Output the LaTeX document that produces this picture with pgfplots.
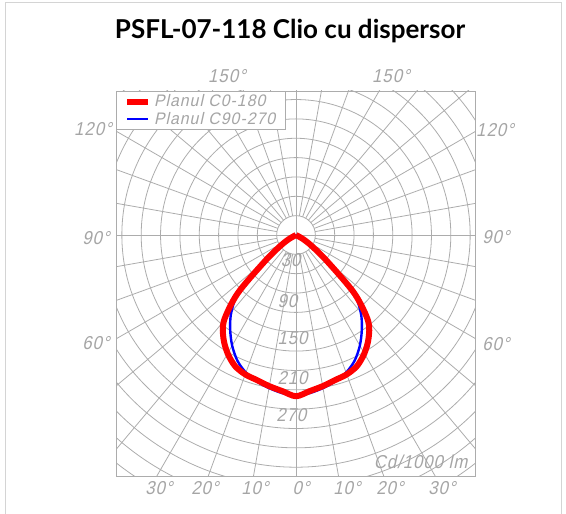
\documentclass[border=0pt]{standalone}
\usepackage{pgfplots}
\pgfplotsset{compat=1.18}
\usepackage{fontspec}
\setmainfont{Liberation Sans}
\newfontfamily\cadfont[FakeSlant=0.22,FakeStretch=0.9,LetterSpace=5]{Liberation Sans}
\newfontfamily\legfont[FakeSlant=0.22,FakeStretch=0.95,LetterSpace=6]{Liberation Sans}
\newfontfamily\titlefont{Lato}
\definecolor{gridgray}{RGB}{172,172,172}
\definecolor{labgray}{RGB}{165,165,165}
\definecolor{framegray}{RGB}{212,212,212}
\newcommand{\cadsize}{\cadfont\fontsize{14}{15}\selectfont}

\begin{document}
\begin{tikzpicture}
\path[use as bounding box] (0,0) rectangle (424.5pt,384.75pt);
\begin{axis}[
  at={(87pt,27.75pt)}, anchor=south west,
  scale only axis, width=269.25pt, height=288.75pt,
  xmin=-279.07, xmax=277.52, ymin=-373.64, ymax=223.26,
  xtick=\empty, ytick=\empty,
  axis line style={gridgray, line width=0.6pt},
  legend style={at={(0,1)}, anchor=north west, draw=gridgray, fill=white,
    line width=0.6pt, font=\legfont\fontsize{12.5}{13}\selectfont, text=labgray,
    inner xsep=6pt, inner ysep=0.5pt, row sep=-1.5pt, cells={anchor=west}},
  legend image code/.code={\draw[#1] (0pt,0pt) -- (15.75pt,0pt);},
  reverse legend,
]
\pgfplotsinvokeforeach{30,60,...,600}{\draw[gridgray, line width=0.6pt] (axis cs:0,0) circle[radius=#1];}
\pgfplotsinvokeforeach{0,10,...,350}{\draw[gridgray, line width=0.6pt] (axis cs:{30*cos(#1)},{30*sin(#1)}) -- (axis cs:{900*cos(#1)},{900*sin(#1)});}
\draw[gridgray, line width=0.6pt] (axis cs:-600,0) -- (axis cs:600,0);
\draw[gridgray, line width=0.6pt] (axis cs:0,-600) -- (axis cs:0,600);

\node[anchor=west, font=\cadsize, text=labgray, inner sep=0pt] at (axis cs:-24,-39) {30};
\node[anchor=west, font=\cadsize, text=labgray, inner sep=0pt] at (axis cs:-29,-103) {90};
\node[anchor=west, font=\cadsize, text=labgray, inner sep=0pt] at (axis cs:-29,-160) {150};
\node[anchor=west, font=\cadsize, text=labgray, inner sep=0pt] at (axis cs:-29,-222) {210};
\node[anchor=west, font=\cadsize, text=labgray, inner sep=0pt] at (axis cs:-31,-279) {270};
\node[anchor=east, font=\cadsize, text=labgray, inner sep=0pt] at (axis cs:266,-352) {Cd/1000 lm};

\addplot[blue, line width=1.8pt, smooth, tension=0.5, data cs=polar, line join=round] coordinates {
(-160,0) (-150,13) (-145,30) (-140,62) (-135,125) (-130,156) (-125,178) (-120,198) (-115,215)
(-110,227) (-105,235) (-100,241) (-95,246) (-90,250)
(-85,246) (-80,241) (-75,235) (-70,227) (-65,215) (-60,198) (-55,178) (-50,156)
(-45,125) (-40,62) (-35,30) (-30,13) (-20,0)
};
\addlegendentry{Planul C90-270}
\addplot[red, line width=4.5pt, smooth, tension=0.5, data cs=polar, line join=round] coordinates {
(-160,0) (-150,13) (-145,30) (-140,62) (-135,128) (-130,174) (-125,196) (-120,212) (-115,224)
(-110,230) (-105,233) (-100,238) (-95,243) (-90,250)
(-85,243) (-80,238) (-75,233) (-70,230) (-65,224) (-60,212) (-55,196) (-50,174)
(-45,128) (-40,62) (-35,30) (-30,13) (-20,0)
};
\addlegendentry{Planul C0-180}
\end{axis}

\begin{scope}[shift={(0pt,384.75pt)}, x=0.75pt, y=-0.75pt]
\draw[framegray, line width=0.75pt] (5,514) -- (5,3) -- (561,3) -- (561,514);
\node[font=\titlefont\bfseries\fontsize{19.5}{22}\selectfont] at (290,31) {PSFL-07-118 Clio cu dispersor};
\begin{scope}[every node/.style={font=\cadsize, text=labgray, inner sep=0pt}]
\node at (227,76) {150°};
\node at (391,76) {150°};
\node at (93,129) {120°};
\node at (495,130) {120°};
\node at (96,238) {90°};
\node at (496,237) {90°};
\node at (96,343) {60°};
\node at (496,344) {60°};
\node at (159,488) {30°};
\node at (205,488) {20°};
\node at (255,488) {10°};
\node at (301,488) {0°};
\node at (347,488) {10°};
\node at (390,488) {20°};
\node at (442,488) {30°};
\end{scope}
\end{scope}
\end{tikzpicture}
\end{document}
